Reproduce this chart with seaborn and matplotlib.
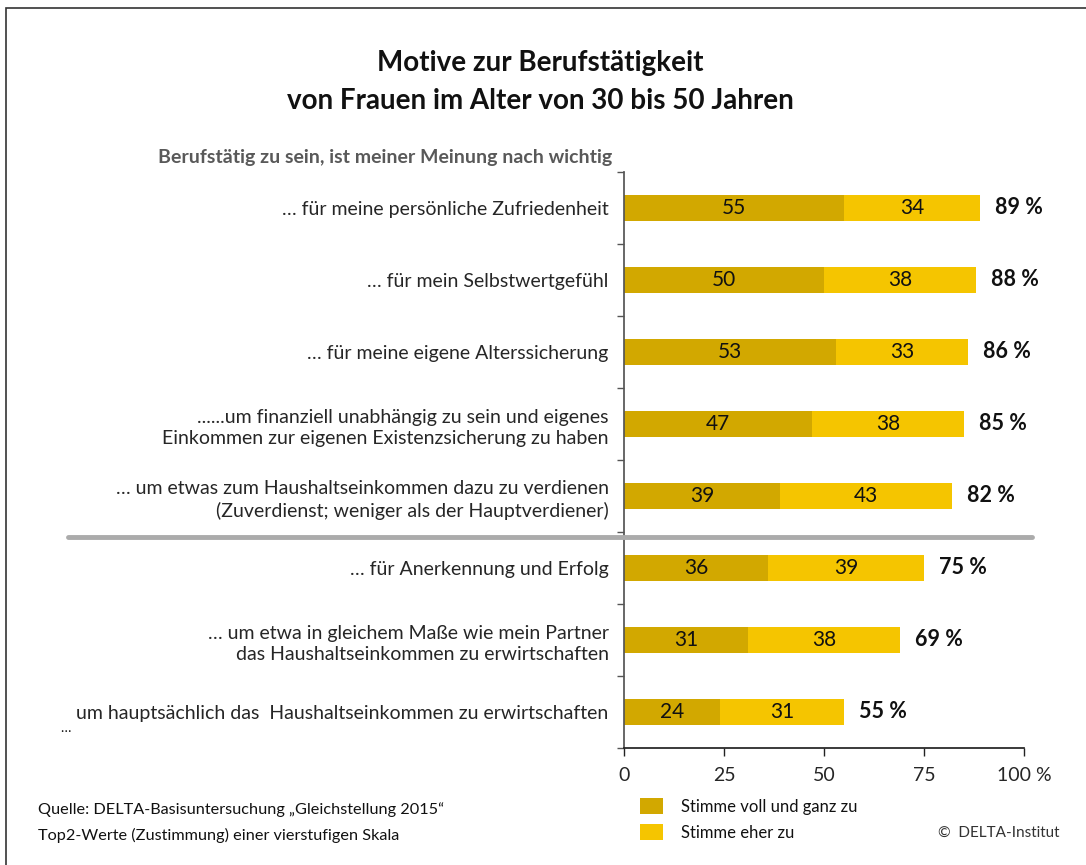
import matplotlib
matplotlib.use("Agg")
import matplotlib.pyplot as plt
import seaborn as sns
import pandas as pd
from matplotlib.patches import Rectangle, Patch
from matplotlib.lines import Line2D

# Data
motive = [
    "… für meine persönliche Zufriedenheit",
    "… für mein Selbstwertgefühl",
    "… für meine eigene Alterssicherung",
    "......um finanziell unabhängig zu sein und eigenes\nEinkommen zur eigenen Existenzsicherung zu haben",
    "… um etwas zum Haushaltseinkommen dazu zu verdienen\n(Zuverdienst; weniger als der Hauptverdiener)",
    "… für Anerkennung und Erfolg",
    "… um etwa in gleichem Maße wie mein Partner\ndas Haushaltseinkommen zu erwirtschaften",
    "um hauptsächlich das  Haushaltseinkommen zu erwirtschaften",
]
voll = [55, 50, 53, 47, 39, 36, 31, 24]
eher = [34, 38, 33, 38, 43, 39, 38, 31]
gesamt = [89, 88, 86, 85, 82, 75, 69, 55]
x_ticks = [0, 25, 50, 75, 100]
x_ticklabels = ["0", "25", "50", "75", "100 %"]

df = pd.DataFrame({"motiv": motive, "voll": voll, "eher": eher, "gesamt": gesamt})

DARK = "#D2A800"
LIGHT = "#F5C500"

sns.set_theme(style="white")
plt.rcParams["font.family"] = ["Lato", "DejaVu Sans"]
plt.rcParams["text.color"] = "#111111"

fig = plt.figure(figsize=(10.86, 8.65), dpi=100)
ax = fig.add_axes([624 / 1086, 1 - 748 / 865, 400 / 1086, 576 / 865])

# stacked: full bar in light colour, dark part on top
sns.barplot(data=df, x="gesamt", y="motiv", color=LIGHT, width=0.35,
            saturation=1, ax=ax, orient="h", linewidth=0)
sns.barplot(data=df, x="voll", y="motiv", color=DARK, width=0.35,
            saturation=1, ax=ax, orient="h", linewidth=0)

for i, row in df.iterrows():
    ax.text(row["voll"] / 2, i, str(row["voll"]), ha="center", va="center",
            fontsize=15, color="#111111")
    ax.text(row["voll"] + row["eher"] / 2, i, str(row["eher"]), ha="center",
            va="center", fontsize=15, color="#111111")
    ax.text(row["gesamt"] + 3.8, i, f"{row['gesamt']} %", ha="left",
            va="center", fontsize=15.5, fontweight="bold", color="#111111")

ax.set_xlim(0, 100)
ax.set_ylim(7.5, -0.5)
ax.set_xlabel("")
ax.set_ylabel("")
ax.set_xticks(x_ticks)
ax.set_xticklabels(x_ticklabels, fontsize=14)
ax.tick_params(axis="x", direction="out", length=6, width=1, color="#222222",
               bottom=True, pad=8)
ax.tick_params(axis="y", which="major", length=0, pad=11, labelsize=14)
ax.set_yticks([i - 0.5 for i in range(len(motive) + 1)], minor=True)
ax.tick_params(axis="y", which="minor", direction="out", length=5, width=1,
               color="#555555", left=True)
for t in ax.get_yticklabels():
    t.set_linespacing(1.3)

sns.despine(ax=ax, top=True, right=True)
ax.spines["left"].set_color("#555555")
ax.spines["bottom"].set_color("#222222")
ax.grid(False)

# separator between the two blocks
fig.add_artist(Line2D([68 / 1086, 1032 / 1086], [1 - 537 / 865, 1 - 537 / 865],
                      color="#ABABAB", lw=3.5, transform=fig.transFigure))

# frame (top and left visible)
fig.add_artist(Rectangle((6 / 1086, -0.1), 1.2, 1 - 8 / 865 + 0.1, fill=False,
                         edgecolor="#333333", lw=1.2, transform=fig.transFigure))

fig.text(540 / 1086, 1 - 63 / 865, "Motive zur Berufstätigkeit", ha="center",
         va="center", fontsize=20, fontweight="bold")
fig.text(540 / 1086, 1 - 101 / 865, "von Frauen im Alter von 30 bis 50 Jahren",
         ha="center", va="center", fontsize=20, fontweight="bold")
fig.text(612 / 1086, 1 - 158 / 865, "Berufstätig zu sein, ist meiner Meinung nach wichtig",
         ha="right", va="center", fontsize=14, fontweight="bold", color="#595959")
fig.text(60 / 1086, 1 - 728 / 865, "…", ha="left", va="center", fontsize=10)

fig.text(38 / 1086, 1 - 810 / 865, "Quelle: DELTA-Basisuntersuchung „Gleichstellung 2015“",
         ha="left", va="center", fontsize=11.7)
fig.text(38 / 1086, 1 - 835 / 865, "Top2-Werte (Zustimmung) einer vierstufigen Skala",
         ha="left", va="center", fontsize=11.7)
fig.text(1060 / 1086, 1 - 833 / 865, "©  DELTA-Institut", ha="right", va="center",
         fontsize=11, color="#333333")

handles = [Patch(facecolor=DARK, edgecolor="none", label="Stimme voll und ganz zu"),
           Patch(facecolor=LIGHT, edgecolor="none", label="Stimme eher zu")]
fig.legend(handles=handles, loc="upper left", bbox_to_anchor=(640 / 1086, 1 - 798 / 865),
           frameon=False, fontsize=12, handlelength=1.35, handleheight=1.1,
           handletextpad=1.1, labelspacing=0.55, borderaxespad=0, borderpad=0)

fig.savefig("out.png", dpi=100)
